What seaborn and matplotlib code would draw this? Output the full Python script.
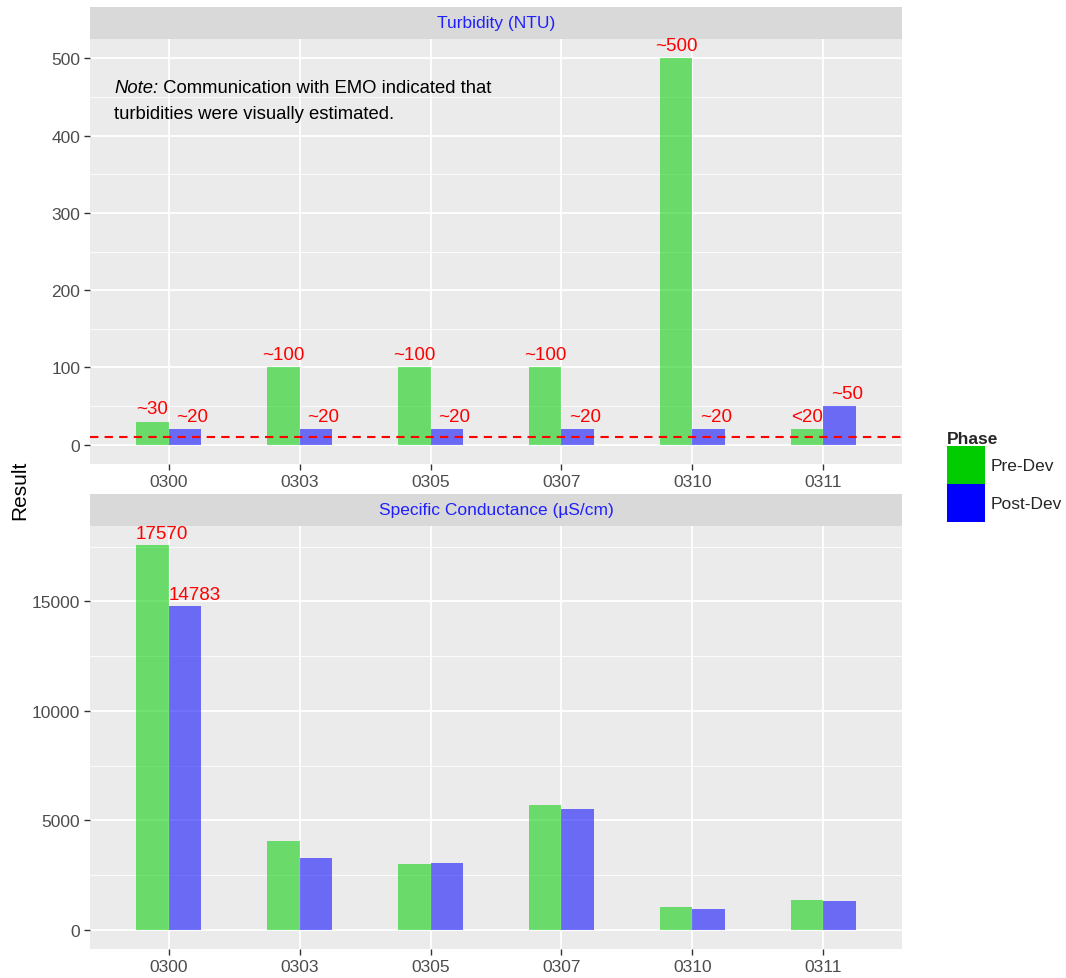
import numpy as np
import pandas as pd
import seaborn as sns
import matplotlib.pyplot as plt
from matplotlib.patches import Patch

sites = ["0300", "0303", "0305", "0307", "0310", "0311"]
phases = ["Pre-Dev", "Post-Dev"]

turb_pre = [30, 100, 100, 100, 500, 20]
turb_post = [20, 20, 20, 20, 20, 50]
turb_pre_labels = ["~30", "~100", "~100", "~100", "~500", "<20"]
turb_post_labels = ["~20", "~20", "~20", "~20", "~20", "~50"]
turb_threshold = 10

cond_pre = [17570, 4050, 3000, 5680, 1060, 1370]
cond_post = [14783, 3300, 3070, 5530, 930, 1300]
cond_pre_labels = ["17570", "", "", "", "", ""]
cond_post_labels = ["14783", "", "", "", "", ""]

colors = {"Pre-Dev": "#00CC00", "Post-Dev": "#0000FF"}
W, H = 1066, 979


def long_df(pre, post):
    return pd.DataFrame({
        "Site": sites * 2,
        "Phase": ["Pre-Dev"] * len(sites) + ["Post-Dev"] * len(sites),
        "Result": list(pre) + list(post),
    })


def px_rect(left, top, right, bottom):
    return [left / W, 1 - bottom / H, (right - left) / W, (bottom - top) / H]


sns.set_theme(style="darkgrid")
plt.rcParams["font.family"] = ["Liberation Sans", "DejaVu Sans"]

fig = plt.figure(figsize=(W / 100, H / 100), dpi=100)


def panel(top, bottom, strip_title, pre, post, pre_labels, post_labels, yticks, minor, ylim, lab_dx, lab_dy):
    sax = fig.add_axes(px_rect(90, top - 32, 902, top))
    sax.set_facecolor("#D9D9D9")
    sax.set_xticks([])
    sax.set_yticks([])
    sax.set_zorder(1)
    for s in sax.spines.values():
        s.set_visible(False)
    sax.text(0.5, 0.5, strip_title, color="#2020FF", fontsize=12.5, ha="center", va="center",
             transform=sax.transAxes)

    ax = fig.add_axes(px_rect(90, top, 902, bottom))
    ax.set_zorder(2)
    sns.barplot(data=long_df(pre, post), x="Site", y="Result", hue="Phase", hue_order=phases,
                order=sites, palette=colors, alpha=0.55, width=0.5, errorbar=None,
                saturation=1, linewidth=0, ax=ax)
    ax.get_legend().remove()
    ax.set_facecolor("#EBEBEB")
    ax.set_xlim(-0.6, 5.6)
    ax.set_ylim(*ylim)
    ax.set_yticks(yticks)
    ax.set_yticks(minor, minor=True)
    ax.grid(True, which="major", color="white", linewidth=1.3)
    ax.grid(True, which="minor", axis="y", color="white", linewidth=0.6)
    ax.set_axisbelow(True)
    for s in ax.spines.values():
        s.set_visible(False)
    ax.set_xlabel("")
    ax.set_ylabel("")
    ax.tick_params(axis="both", which="major", length=4, width=1, color="#333333",
                   labelsize=12.5, labelcolor="#4D4D4D", pad=3, bottom=True, left=True)
    ax.tick_params(axis="y", which="minor", length=0)

    for cont, labels, dx in zip(ax.containers, [pre_labels, post_labels], lab_dx):
        for patch, lab in zip(cont.patches, labels):
            if not lab:
                continue
            xc = patch.get_x() + patch.get_width() / 2
            ax.annotate(lab, (xc, patch.get_height()), xytext=(dx, lab_dy), textcoords="offset points",
                        ha="center", va="bottom", color="red", fontsize=13.5, annotation_clip=False)
    return ax


ax1 = panel(40, 465, "Turbidity (NTU)", turb_pre, turb_post, turb_pre_labels, turb_post_labels,
            [0, 100, 200, 300, 400, 500], [50, 150, 250, 350, 450], (-25, 525), (0, 5), 3)
ax1.axhline(turb_threshold, color="red", linestyle=(0, (4, 3)), linewidth=1.5, zorder=5)

t1 = ax1.text(0.0296, 0.887, "Note:", style="italic", fontsize=13.3, ha="left", va="center",
              transform=ax1.transAxes, color="black")
ax1.annotate(" Communication with EMO indicated that", xy=(1, 0), xycoords=t1, ha="left", va="bottom",
             fontsize=13.3, color="black")
ax1.annotate("turbidities were visually estimated.", xy=(0, 0), xycoords=t1, xytext=(0, -19),
             textcoords="offset points", ha="left", va="bottom", fontsize=13.3, color="black")

ax2 = panel(527, 950, "Specific Conductance (µS/cm)", cond_pre, cond_post, cond_pre_labels, cond_post_labels,
            [0, 5000, 10000, 15000], [2500, 7500, 12500, 17500], (-878, 18448), (7, 7), 2)

fig.text(20 / W, 1 - 490 / H, "Result", rotation=90, fontsize=15, ha="center", va="center", color="black")

handles = [Patch(facecolor=colors[p], edgecolor="none", label=p) for p in phases]
fig.legend(handles=handles, title="Phase", loc="upper left", bbox_to_anchor=(935 / W, 1 - 420 / H),
           frameon=False, fontsize=12.5, title_fontproperties={"weight": "bold", "size": 12.5},
           handlelength=2.2, handleheight=3.0, labelspacing=0.0, handletextpad=0.3,
           borderpad=0.2, alignment="left")

fig.savefig("out.png", dpi=100)
